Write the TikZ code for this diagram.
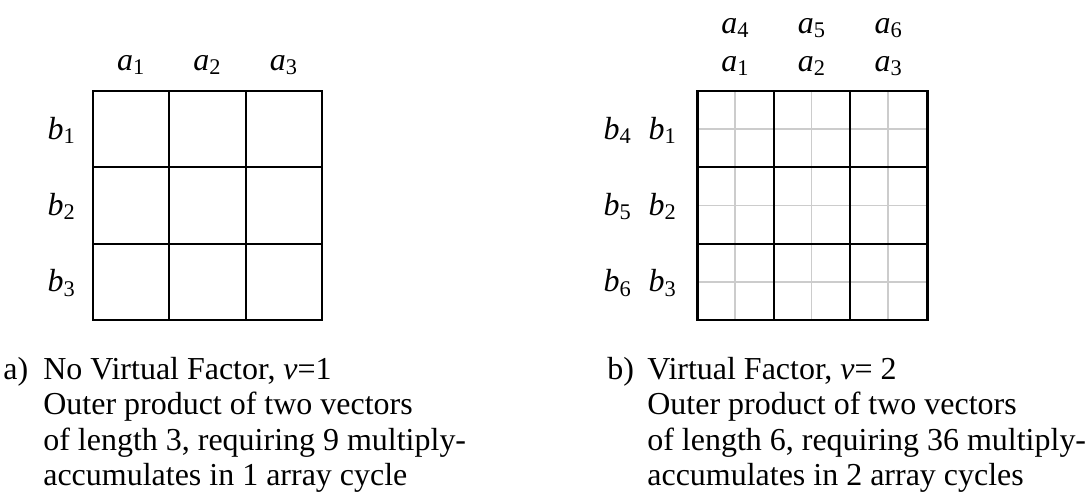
\documentclass[tikz,border=0pt]{standalone}
\usepackage{fontspec}
\setmainfont{Liberation Serif}
\usepackage{tikz}
\usetikzlibrary{positioning}

\begin{document}
\begin{tikzpicture}[
  x=0.02cm, y=-0.02cm,
  font=\fontsize{18.2}{20}\selectfont,
  frame/.style={draw, line width=1.7pt},
  inner/.style={draw, line width=1.1pt},
  subline/.style={draw, line width=0.8pt, gray!40},
  lbl/.style={inner sep=0pt, anchor=base},
  rowlbl/.style={inner sep=0pt, anchor=base east},
  capline/.style={inner sep=0pt, anchor=base west},
]
\useasboundingbox (0,0) rectangle (1088,494);

%% a) grid without virtual factor
\foreach \i in {1,2} {
  \draw[inner] (93+76.33*\i,91) -- (93+76.33*\i,320);
  \draw[inner] (93,91+76.33*\i) -- (322,91+76.33*\i);
}
\draw[frame] (93,91) rectangle (322,320);

\foreach \k in {1,2,3} {
  \node[lbl] (aL\k) at (93+76.33*\k-38.17,70) {\textit{a}\textsubscript{\k}};
  \node[rowlbl] (bL\k) at (76,139+76.33*\k-76.33) {\textit{b}\textsubscript{\k}};
}

%% b) grid with virtual factor 2
\foreach \i in {1,3,5} {
  \draw[subline] (697+38.17*\i,91) -- (697+38.17*\i,320);
  \draw[subline] (697,91+38.17*\i) -- (927,91+38.17*\i);
}
\foreach \i in {1,2} {
  \draw[inner] (697+76.67*\i,91) -- (697+76.67*\i,320);
  \draw[inner] (697,91+76.33*\i) -- (927,91+76.33*\i);
}
\draw[frame] (697,91) rectangle (927,320);

\foreach \k/\m in {1/4,2/5,3/6} {
  \node[lbl] (aR\k) at (697+76.67*\k-38.33,71) {\textit{a}\textsubscript{\k}};
  \node[lbl] (aR\m) at (697+76.67*\k-38.33,33) {\textit{a}\textsubscript{\m}};
  \node[rowlbl] (bR\k) at (677,139+76.33*\k-76.33) {\textit{b}\textsubscript{\k}};
  \node[rowlbl] (bR\m) at (632,139+76.33*\k-76.33) {\textit{b}\textsubscript{\m}};
}

%% captions
\node[capline] (capA) at (3,379) {a)};
\node[capline] (capA1) at (43,379) {No Virtual Factor, \textit{v}=1};
\node[capline] (capA2) at (43,414.5) {Outer product of two vectors};
\node[capline] (capA3) at (43,450) {of length 3, requiring 9 multiply-};
\node[capline] (capA4) at (43,485.5) {accumulates in 1 array cycle};

\node[capline] (capB) at (607,379) {b)};
\node[capline] (capB1) at (647,379) {Virtual Factor, \textit{v}= 2};
\node[capline] (capB2) at (647,414.5) {Outer product of two vectors};
\node[capline] (capB3) at (647,450) {of length 6, requiring 36 multiply-};
\node[capline] (capB4) at (647,485.5) {accumulates in 2 array cycles};

\end{tikzpicture}
\end{document}
